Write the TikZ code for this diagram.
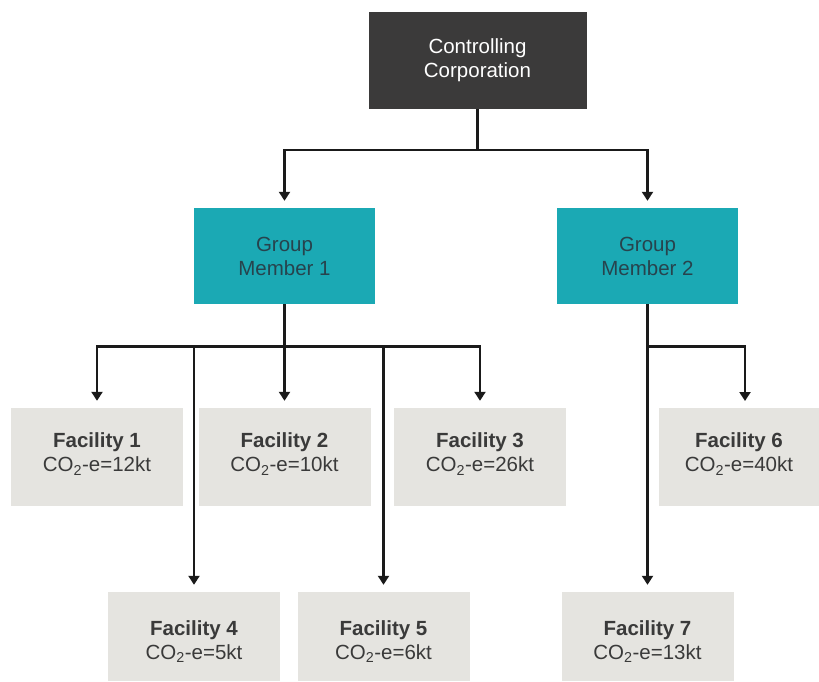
\documentclass[tikz,border=0pt]{standalone}
\usepackage{fontspec}
\setmainfont{Liberation Sans}
\usetikzlibrary{arrows.meta}

\definecolor{corpfill}{HTML}{3B3A3A}
\definecolor{memberfill}{HTML}{1BA9B4}
\definecolor{membertext}{HTML}{27434D}
\definecolor{facfill}{HTML}{E5E4E0}
\definecolor{factext}{HTML}{3A3A3A}
\definecolor{linecol}{HTML}{1A1A1A}

\tikzset{
  box/.style={rectangle, inner sep=0pt, align=center,
    font=\fontsize{20.5}{24}\selectfont},
  corpbox/.style={box, fill=corpfill, text=white,
    minimum width=218pt, minimum height=97pt},
  memberbox/.style={box, fill=memberfill, text=membertext,
    minimum width=181pt, minimum height=96pt},
  facbox/.style={box, fill=facfill, text=factext, text depth=9pt,
    minimum width=172pt, minimum height=98pt},
  lowbox/.style={facbox, minimum height=89pt, text height=49pt, text depth=3pt},
  link/.style={draw=linecol, line width=2.2pt},
  arr/.style={link, -{Triangle[width=11pt,length=9pt]}, shorten >=7pt},
}

\begin{document}
\begin{tikzpicture}[x=1pt, y=-1pt]
  \useasboundingbox (0,0) rectangle (819,682);

  % top level
  \node[corpbox] (cc) at (477.5,60.5) {Controlling\\Corporation};

  % group members
  \node[memberbox] (gm1) at (284.5,256) {Group\\Member 1};
  \node[memberbox] (gm2) at (647.5,256) {Group\\Member 2};

  % facilities, upper row
  \node[facbox] (f1) at (97,457)   {\textbf{Facility 1}\\CO\textsubscript{2}-e=12kt};
  \node[facbox] (f2) at (284.5,457) {\textbf{Facility 2}\\CO\textsubscript{2}-e=10kt};
  \node[facbox] (f3) at (480,457)  {\textbf{Facility 3}\\CO\textsubscript{2}-e=26kt};
  \node[facbox, minimum width=160pt] (f6) at (739,457) {\textbf{Facility 6}\\CO\textsubscript{2}-e=40kt};

  % facilities, lower row
  \node[lowbox] (f4) at (194,636.5)   {\textbf{Facility 4}\\CO\textsubscript{2}-e=5kt};
  \node[lowbox] (f5) at (383.5,636.5) {\textbf{Facility 5}\\CO\textsubscript{2}-e=6kt};
  \node[lowbox] (f7) at (647.5,636.5) {\textbf{Facility 7}\\CO\textsubscript{2}-e=13kt};

  % bus lines
  \coordinate (busc) at (477.5,150);
  \coordinate (bus1) at (284.5,346.5);
  \coordinate (bus2) at (647.5,346.5);
  \coordinate (f6in) at (745,408);

  % corporation to members
  \draw[link] (cc.south) -- (busc);
  \draw[arr] (busc) -| (gm1.north);
  \draw[arr] (busc) -| (gm2.north);

  % member 1 to its facilities
  \draw[link] (gm1.south) -- (bus1);
  \draw[arr] (bus1) -| (f1.north);
  \draw[arr] (bus1) -- (f2.north);
  \draw[arr] (bus1) -| (f3.north);
  \draw[arr] (bus1) -| (f4.north);
  \draw[arr] (bus1) -| (f5.north);

  % member 2 to its facilities
  \draw[link] (gm2.south) -- (bus2);
  \draw[arr] (bus2) -| (f6in);
  \draw[arr] (bus2) -- (f7.north);
\end{tikzpicture}
\end{document}
